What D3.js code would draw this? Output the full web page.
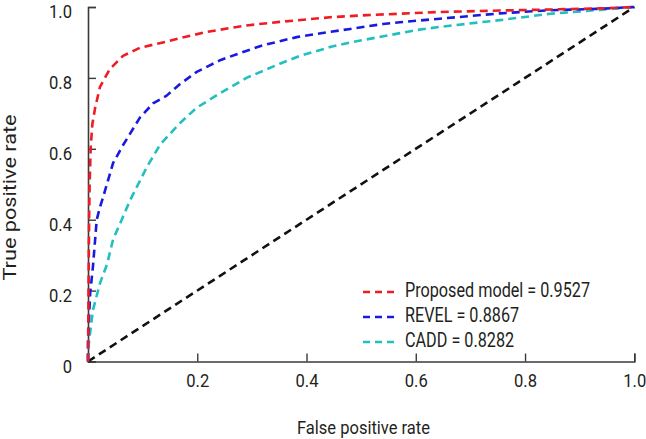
<!DOCTYPE html>
<html><head><meta charset="utf-8">
<script src="https://cdn.jsdelivr.net/npm/d3@7"></script>
<style>
html,body{margin:0;padding:0;background:#fff;}
text{font-family:Roboto,"Liberation Sans",sans-serif;font-weight:400;fill:#231f20;}
</style></head>
<body><svg id="c" width="646" height="439"></svg>
<script>
const xTicks = [0.2, 0.4, 0.6, 0.8, 1.0];
const yTicks = [0, 0.2, 0.4, 0.6, 0.8, 1.0];
const seriesNames = ["Proposed model = 0.9527", "REVEL = 0.8867", "CADD = 0.8282"];
const proposed = [[0,0],[0.001,0.2],[0.002,0.4],[0.003,0.5],[0.005,0.605],[0.008,0.67],[0.013,0.715],[0.022,0.775],[0.04,0.825],[0.064,0.862],[0.095,0.885],[0.137,0.9],[0.168,0.912],[0.218,0.93],[0.29,0.948],[0.351,0.958],[0.443,0.971],[0.51,0.977],[0.571,0.981],[0.644,0.986],[0.754,0.99],[0.846,0.993],[0.937,0.996],[1,1]];
const revel = [[0,0],[0,0.06],[0.004,0.193],[0.009,0.267],[0.016,0.4],[0.022,0.436],[0.027,0.46],[0.046,0.56],[0.064,0.61],[0.095,0.688],[0.119,0.728],[0.144,0.75],[0.168,0.782],[0.199,0.817],[0.242,0.85],[0.278,0.87],[0.32,0.892],[0.382,0.915],[0.443,0.93],[0.48,0.938],[0.54,0.952],[0.571,0.957],[0.644,0.967],[0.754,0.982],[0.846,0.991],[0.937,0.995],[1,1]];
const cadd = [[0,0],[0,0.032],[0.009,0.145],[0.022,0.221],[0.035,0.275],[0.046,0.345],[0.059,0.39],[0.077,0.455],[0.108,0.549],[0.132,0.612],[0.168,0.672],[0.199,0.716],[0.242,0.757],[0.29,0.8],[0.351,0.84],[0.388,0.862],[0.443,0.887],[0.48,0.9],[0.553,0.921],[0.602,0.935],[0.644,0.944],[0.754,0.963],[0.846,0.981],[0.937,0.992],[1,1]];
const diagonal = [[0,0],[1,1]];
const colors = ["#ee1c25", "#1a1adf", "#22bfbf"];

const svg = d3.select("#c");
const x = d3.scaleLinear().domain([0,1]).range([88, 634.3]);
const y = d3.scaleLinear().domain([0,1]).range([361.5, 7]);
const axisColor = "#3a3a3a";

function condense(sel, f) {
  sel.each(function() {
    const w = this.getComputedTextLength();
    this.setAttribute("textLength", (w * f).toFixed(1));
    this.setAttribute("lengthAdjust", "spacingAndGlyphs");
  });
}
function fitTo(sel, target) {
  sel.each(function() {
    this.setAttribute("textLength", target);
    this.setAttribute("lengthAdjust", "spacingAndGlyphs");
  });
}

const xa = svg.append("g").attr("transform", `translate(0,${y(0)})`)
  .call(d3.axisBottom(x).tickValues(xTicks).tickSize(-8).tickFormat(d3.format(".1f")));
const ya = svg.append("g").attr("transform", `translate(${x(0)},0)`)
  .call(d3.axisLeft(y).tickValues(yTicks).tickSize(-8).tickFormat(d => d === 0 ? "0" : d3.format(".1f")(d)));
[xa, ya].forEach(g => {
  g.select(".domain").attr("stroke", axisColor).attr("stroke-width", 1.6);
  g.selectAll(".tick line").attr("stroke", axisColor).attr("stroke-width", 1.4);
  g.selectAll(".tick text").style("font-size", "19px").attr("fill", "#231f20")
    .style("font-family", "Roboto, 'Liberation Sans', sans-serif").style("font-weight", 400);
});
ya.selectAll(".tick text").attr("dy", null).attr("y", 10.5).attr("x", -16);
xa.selectAll(".tick text").attr("dy", null).attr("y", 25.5);

const tickTexts = svg.selectAll(".tick text");
let refW = 0;
xa.selectAll(".tick text").each(function(d) { if (d === 0.4) refW = this.getComputedTextLength(); });
condense(tickTexts, refW ? 23 / refW : 0.82);

const xt = svg.append("text").attr("x", 363.5).attr("y", 434).attr("text-anchor", "middle")
  .style("font-size", "18px").text("False positive rate");
fitTo(xt, 133);
const yt = svg.append("text").attr("transform", "translate(15.5,197.5) rotate(-90)").attr("text-anchor", "middle")
  .style("font-size", "17.5px").text("True positive rate");
fitTo(yt, 166);

const line = d3.line().x(d => x(d[0])).y(d => y(d[1])).curve(d3.curveLinear);

svg.append("path").datum(diagonal).attr("d", line).attr("fill", "none")
  .attr("stroke", "#111").attr("stroke-width", 2.6).attr("stroke-dasharray", "8,5");

const series = [cadd, revel, proposed];
const sColors = [colors[2], colors[1], colors[0]];
series.forEach((s, i) => {
  svg.append("path").datum(s).attr("d", line).attr("fill", "none")
    .attr("stroke", sColors[i]).attr("stroke-width", 2.6).attr("stroke-dasharray", "8,5")
    .attr("stroke-linejoin", "round");
});

const lg = svg.append("g");
const legTexts = [];
seriesNames.forEach((n, i) => {
  const yy = 292 + i * 25;
  lg.append("line").attr("x1", 363).attr("x2", 396).attr("y1", yy).attr("y2", yy)
    .attr("stroke", colors[i]).attr("stroke-width", 2.6).attr("stroke-dasharray", "7,5");
  legTexts.push(lg.append("text").attr("x", 405).attr("y", yy + 5).style("font-size", "21px").text(n).node());
});
const w0 = legTexts[0].getComputedTextLength();
condense(d3.selectAll(legTexts), 185 / w0);
</script></body></html>
